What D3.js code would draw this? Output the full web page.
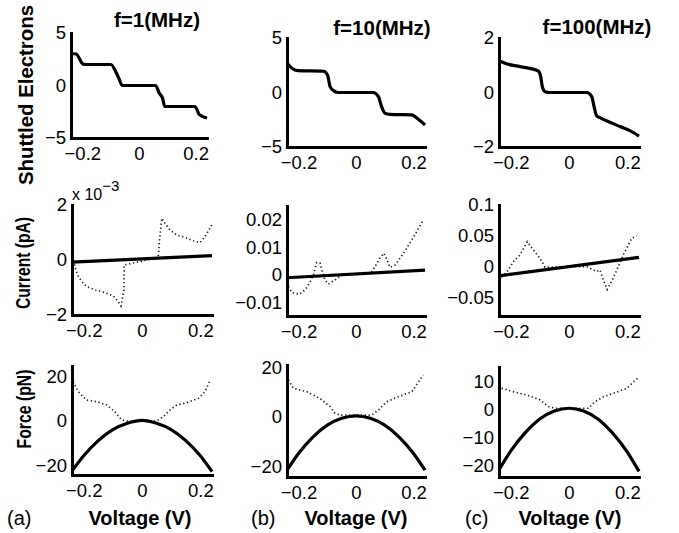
<!DOCTYPE html>
<html>
<head>
<meta charset="utf-8">
<script src="https://cdn.jsdelivr.net/npm/d3@7"></script>
<style>
  body { margin: 0; background: #fff; }
  text { font-family: "Liberation Sans", Arial, Helvetica, sans-serif; fill: #000; }
</style>
</head>
<body>
<script>
// Data
const titles = ["f=1(MHz)", "f=10(MHz)", "f=100(MHz)"],
  panelTags = ["(a)", "(b)", "(c)"],
  voltDomain = [-0.24, 0.24],
  voltTicks = [-0.2, 0, 0.2],

  // shuttled electrons
  shuttled1 = [[-0.24, 3.05], [-0.222, 3.0], [-0.198, 2.05], [-0.19, 2.0], [-0.099, 2.0], [-0.082, 1.32], [-0.071, 0.68], [-0.059, 0], [0.058, 0], [0.072, -0.75], [0.083, -1.2], [0.091, -2.0], [0.197, -2.0], [0.214, -2.8], [0.24, -3.1]],
  shuttled10 = [[-0.24, 2.7], [-0.223, 2.22], [-0.203, 2.0], [-0.113, 1.95], [-0.099, 1.6], [-0.09, 0.53], [-0.078, 0.17], [-0.061, 0], [0.06, 0], [0.078, -0.38], [0.089, -1.3], [0.101, -1.9], [0.118, -2.0], [0.194, -2.05], [0.217, -2.46], [0.24, -2.98]],
  shuttled100 = [[-0.24, 1.17], [-0.219, 1.07], [-0.168, 0.95], [-0.105, 0.79], [-0.097, 0.58], [-0.091, 0.19], [-0.082, 0.03], [-0.065, 0], [0.061, 0], [0.078, -0.15], [0.086, -0.52], [0.095, -0.86], [0.106, -0.92], [0.175, -1.25], [0.209, -1.4], [0.24, -1.6]],

  // current (row a in units of 1e-3 pA)
  current1Line = [[-0.24, -0.08], [0.24, 0.16]],
  current1Dot = [[-0.237, 0.12], [-0.229, -0.27], [-0.221, -0.55], [-0.206, -0.79], [-0.189, -0.97], [-0.16, -1.09], [-0.126, -1.19], [-0.098, -1.31], [-0.081, -1.52], [-0.072, -1.67], [-0.062, -1.09], [-0.061, -0.18], [0.0, -0.04], [0.056, 0.1], [0.06, 0.73], [0.068, 1.52], [0.079, 1.33], [0.096, 1.09], [0.119, 0.91], [0.148, 0.82], [0.176, 0.7], [0.199, 0.63], [0.216, 0.85], [0.239, 1.27]],
  current10Line = [[-0.24, -0.0011], [0.24, 0.0017]],
  current10Dot = [[-0.235, -0.0043], [-0.224, -0.0064], [-0.197, -0.0071], [-0.177, -0.0055], [-0.162, -0.0031], [-0.148, 0], [-0.137, 0.0044], [-0.125, 0.0042], [-0.119, 0.0017], [-0.108, -0.0019], [-0.096, -0.0034], [-0.073, -0.0019], [-0.049, 0], [0.049, 0.0003], [0.066, 0.0029], [0.083, 0.006], [0.097, 0.0078], [0.107, 0.0056], [0.118, 0.0027], [0.136, 0.0035], [0.165, 0.0078], [0.194, 0.0126], [0.234, 0.0199]],
  current100Line = [[-0.24, -0.015], [0.24, 0.015]],
  current100Dot = [[-0.231, -0.017], [-0.208, -0.0054], [-0.191, 0.0081], [-0.168, 0.019], [-0.143, 0.0405], [-0.122, 0.027], [-0.099, 0.0135], [-0.082, -0.001], [0.0, 0.0], [0.061, 0.0], [0.095, -0.008], [0.106, -0.0054], [0.118, -0.0216], [0.131, -0.037], [0.146, -0.024], [0.164, -0.0054], [0.186, 0.019], [0.215, 0.046], [0.232, 0.05]],

  // force
  force1Line = [[-0.24, -22.7], [-0.2, -15.8], [-0.15, -8.9], [-0.1, -3.9], [-0.05, -1.0], [0, 0.3], [0.05, -1.0], [0.1, -3.9], [0.15, -8.9], [0.2, -15.8], [0.24, -23.0]],
  force1Dot = [[-0.236, 17.9], [-0.218, 13.3], [-0.19, 9.5], [-0.155, 8.8], [-0.121, 7.3], [-0.093, 4.2], [-0.07, 0.5], [-0.052, 0], [0.05, 0], [0.073, 2.0], [0.096, 5.0], [0.119, 7.3], [0.153, 8.3], [0.193, 10.3], [0.216, 13.3], [0.231, 17.9]],
  force10Line = [[-0.24, -21.4], [-0.2, -14.7], [-0.15, -8.1], [-0.1, -3.3], [-0.05, -0.5], [0, 0.5], [0.05, -0.5], [0.1, -3.3], [0.15, -8.1], [0.2, -14.7], [0.24, -21.4]],
  force10Dot = [[-0.235, 15.0], [-0.218, 11.6], [-0.171, 10.2], [-0.125, 7.5], [-0.09, 4.2], [-0.073, 1.5], [-0.056, 0.8], [0.055, 0.8], [0.078, 2.8], [0.107, 6.2], [0.147, 8.2], [0.194, 10.2], [0.234, 17.0]],
  force100Line = [[-0.24, -21.5], [-0.2, -14.8], [-0.15, -8.2], [-0.1, -3.3], [-0.05, -0.5], [0, 0.5], [0.05, -0.5], [0.1, -3.4], [0.15, -8.4], [0.2, -15.1], [0.24, -22.0]],
  force100Dot = [[-0.231, 7.6], [-0.191, 6.4], [-0.145, 5.2], [-0.099, 3.5], [-0.071, 1.1], [-0.048, 0.5], [0.066, 0.5], [0.089, 2.8], [0.118, 4.6], [0.152, 5.8], [0.198, 7.6], [0.24, 11.7]],

  // y domains and ticks
  yDomains = [
    [[-5, 5], [-5, 5], [-2, 2]],
    [[-2, 2], [-0.015, 0.025], [-0.08, 0.1]],
    [[-24.5, 25], [-24.2, 21], [-24, 15.2]]
  ],
  yTicks = [
    [[-5, 0, 5], [-5, 0, 5], [-2, 0, 2]],
    [[-2, 0, 2], [-0.01, 0, 0.01, 0.02], [-0.05, 0, 0.05, 0.1]],
    [[-20, 0, 20], [-20, 0, 20], [-20, -10, 0, 10]]
  ],
  solids = [
    [shuttled1, shuttled10, shuttled100],
    [current1Line, current10Line, current100Line],
    [force1Line, force10Line, force100Line]
  ],
  dots = [
    [null, null, null],
    [current1Dot, current10Dot, current100Dot],
    [force1Dot, force10Dot, force100Dot]
  ];

// Layout: [left, right, top, bottom] per row/col
const frames = [
  [[71, 207, 33, 138], [287, 425, 38, 147], [499, 639, 38, 147]],
  [[72, 212, 205, 315], [287, 425, 206, 316], [499, 639, 205, 316]],
  [[72, 212, 366, 475], [287, 425, 365, 477], [499, 639, 367, 477]]
];

const svg = d3.select("body").append("svg")
  .attr("width", 679)
  .attr("height", 533);

const fmt = d => (d < 0 ? "\u2212" : "") + Math.abs(d);

function panel(row, col) {
  const [l, r, t, b] = frames[row][col],
    x = d3.scaleLinear().domain(voltDomain).range([l, r]),
    y = d3.scaleLinear().domain(yDomains[row][col]).range([b, t]),
    g = svg.append("g");

  const line = d3.line().x(d => x(d[0])).y(d => y(d[1]));

  if (dots[row][col]) {
    g.append("path")
      .attr("d", line(dots[row][col]))
      .attr("fill", "none")
      .attr("stroke", "#222")
      .attr("stroke-width", 1.7)
      .attr("stroke-dasharray", "1.3 2.6");
  }
  g.append("path")
    .attr("d", line.curve(d3.curveMonotoneX)(solids[row][col]))
    .attr("fill", "none")
    .attr("stroke", "#000")
    .attr("stroke-width", 3.2)
    .attr("stroke-linejoin", "round");

  const ax = g.append("g").attr("transform", `translate(${l},0)`)
    .call(d3.axisLeft(y).tickValues(yTicks[row][col]).tickSize(0).tickSizeOuter(0).tickPadding(5).tickFormat(fmt));
  const bx = g.append("g").attr("transform", `translate(0,${b})`)
    .call(d3.axisBottom(x).tickValues(voltTicks).tickSize(0).tickSizeOuter(0).tickPadding(9).tickFormat(fmt));
  [ax, bx].forEach(a => {
    a.select(".domain").attr("stroke", "#000").attr("stroke-width", 3).attr("stroke-linecap", "square");
    a.selectAll("text").style("font-size", "18.5px").attr("fill", "#000");
    a.attr("font-family", null);
  });
}

for (let r = 0; r < 3; r++) for (let c = 0; c < 3; c++) panel(r, c);

// titles
const titlePos = [[157, 27], [382, 35], [597, 34]];
titles.forEach((s, i) => {
  svg.append("text").attr("x", titlePos[i][0]).attr("y", titlePos[i][1])
    .attr("text-anchor", "middle").style("font-size", "20.5px").style("font-weight", "bold").text(s);
});

// x labels and panel tags
const xLabelX = [140, 356, 570],
  tagX = [7, 251, 465];
xLabelX.forEach((cx, i) => {
  svg.append("text").attr("x", cx).attr("y", 525).attr("text-anchor", "middle")
    .style("font-size", "20px").style("font-weight", "bold").text("Voltage (V)");
  svg.append("text").attr("x", tagX[i]).attr("y", 525)
    .style("font-size", "20px").text(panelTags[i]);
});

// y labels: [text, baseline x, centre y, font size, length]
[["Shuttled Electrons", 33, 95, 21, 180], ["Current (pA)", 30, 263, 19.5, 92], ["Force (pN)", 31, 409, 19.5, 79]].forEach(([s, tx, ty, fs, len]) => {
  svg.append("text").attr("transform", `translate(${tx},${ty}) rotate(-90)`)
    .attr("text-anchor", "middle").style("font-size", fs + "px").style("font-weight", "bold")
    .attr("textLength", len).attr("lengthAdjust", "spacingAndGlyphs").text(s);
});

// exponent label for current (a)
const ex = svg.append("text").attr("x", 72).attr("y", 200).style("font-size", "16px");
ex.append("tspan").text("x 10");
ex.append("tspan").attr("dy", -9).style("font-size", "15px").text("\u22123");
</script>
</body>
</html>
